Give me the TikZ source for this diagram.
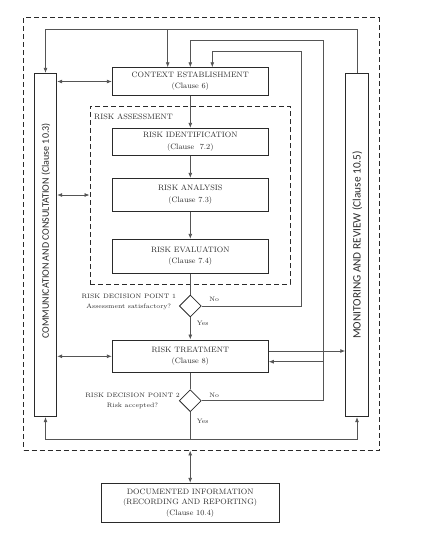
\documentclass[tikz,border=0pt]{standalone}
\usepackage{fontspec}
\newfontfamily\colfont{Carlito}
\usetikzlibrary{shapes.geometric,arrows.meta,calc}
\definecolor{ink}{HTML}{2A2A2A}
\definecolor{wire}{HTML}{555555}
\begin{document}
\begin{tikzpicture}[x=1pt,y=-1pt,
  txt/.style={text=ink,font=\fontsize{7.8}{11.3}\selectfont,align=center,inner sep=0pt},
  small/.style={text=ink,font=\fontsize{6.4}{9.8}\selectfont,align=center,inner sep=0pt},
  coltxt/.style={text=ink,inner sep=0pt,rotate=90},
  box/.style={draw=ink,line width=0.9pt,txt},
  dbox/.style={draw=ink,line width=0.9pt,dash pattern=on 5pt off 3pt},
  line/.style={draw=wire,line width=0.8pt},
  arr/.style={line,-{Latex[length=5pt,width=4pt]}},
  dbl/.style={line,{Latex[length=5pt,width=4pt]}-{Latex[length=5pt,width=4pt]}},
  dia/.style={draw=ink,line width=0.8pt,diamond,minimum width=22,minimum height=22,inner sep=0pt,aspect=1}]
\useasboundingbox (0,0) rectangle (443,542);
% frames
\node[dbox,minimum width=355.5,minimum height=432.5,inner sep=0pt] (outer) at (201.25,233.75) {};
\node[dbox,minimum width=200,minimum height=178,inner sep=0pt] (ab) at (190,195) {};
\node[txt,anchor=west] (abl) at (94,117) {RISK ASSESSMENT};
% columns
\node[box,minimum width=22.4,minimum height=343.4] (lc) at (45.5,245) {};
\node[coltxt,font=\colfont\fontsize{10}{12}\selectfont] (lct) at (45.8,230.9) {COMMUNICATION AND CONSULTATION (Clause 10.3)};
\node[box,minimum width=22.6,minimum height=343.4] (rc) at (357,245) {};
\node[coltxt,font=\colfont\fontsize{11.3}{13}\selectfont] (rct) at (357.3,245) {MONITORING AND REVIEW (Clause 10.5)};
% process boxes
\node[box,minimum width=156,minimum height=27.6] (ctx) at (190.3,81.5) {CONTEXT ESTABLISHMENT\\(Clause 6)};
\node[box,minimum width=156,minimum height=26.7] (ri) at (190.3,141.7) {RISK IDENTIFICATION\\(Clause~~7.2)};
\node[box,minimum width=156,minimum height=32.7] (ra) at (190.3,194.7) {RISK ANALYSIS\\(Clause 7.3)};
\node[box,minimum width=156,minimum height=34] (re) at (190.3,256.3) {RISK EVALUATION\\(Clause 7.4)};
\node[box,minimum width=156,minimum height=32.7] (rt) at (190.3,356.3) {RISK TREATMENT\\(Clause 8)};
\node[box,minimum width=178.3,minimum height=39.4,font=\fontsize{7.8}{10.3}\selectfont] (doc) at (190.2,503) {DOCUMENTED INFORMATION\\(RECORDING AND REPORTING)\\(Clause 10.4)};
% decisions
\node[dia] (d1) at (190.3,306) {};
\node[dia] (d2) at (190.3,400.7) {};
\node[small] (d1l) at (128.8,301.7) {RISK DECISION POINT 1\\Assessment satisfactory?};
\node[small] (d2l) at (132.5,401) {RISK DECISION POINT 2\\Risk accepted?};
\node[small] (no1) at (214.3,299.5) {No};
\node[small] (yes1) at (202.7,323.3) {Yes};
\node[small] (no2) at (214.3,395) {No};
\node[small] (yes2) at (202.7,421.7) {Yes};
% coordinates
\coordinate (t0) at (45.5,29);
\coordinate (tc) at (167.7,29);
\coordinate (c2) at (323.3,40);
\coordinate (c3) at (301.7,51);
\coordinate (b0) at (190.3,439);
\coordinate (rtout) at ([yshift=5.3pt]rt.east);
\coordinate (rtin) at ([yshift=-5.4pt]rt.east);
% connectors
\draw[line] (rc.north) |- (t0);
\draw[arr] (t0) -- (lc.north);
\draw[arr] (tc) -- (tc |- ctx.north);
\draw[arr] (d2.east) -| (c2) -| (ctx.north);
\draw[arr] (d1.east) -| (c3) -| ([xshift=22pt]ctx.north);
\draw[arr] (ctx.south) -- (ri.north);
\draw[arr] (ri.south) -- (ra.north);
\draw[arr] (ra.south) -- (re.north);
\draw[line] (re.south) -- (d1.north);
\draw[arr] (d1.south) -- (rt.north);
\draw[line] (rt.south) -- (d2.north);
\draw[line] (d2.south) -- (b0);
\draw[arr] (b0) -| (lc.south);
\draw[arr] (b0) -| (rc.south);
\draw[dbl] (lc.east |- ctx.west) -- (ctx.west);
\draw[dbl] (lc.east |- ab.west) -- (ab.west);
\draw[dbl] (lc.east |- rt.west) -- (rt.west);
\draw[arr] (rtout) -- (rc.west |- rtout);
\draw[arr] (c2 |- rtin) -- (rtin);
\draw[dbl] (outer.south -| doc.north) -- (doc.north);
\end{tikzpicture}
\end{document}
